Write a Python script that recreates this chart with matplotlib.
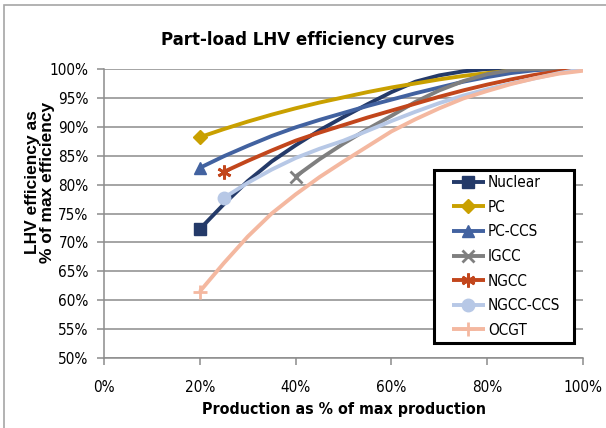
import matplotlib.pyplot as plt
from matplotlib.patches import Rectangle

# part-load efficiency data, % of max production vs % of max efficiency
prod_nuclear = [20, 25, 30, 35, 40, 45, 50, 55, 60, 65, 70, 75, 80, 85, 90, 95, 100]
eff_nuclear = [72.3, 76.6, 80.6, 84.0, 86.8, 89.4, 91.7, 93.9, 96.0, 97.8, 98.9, 99.6, 100, 100, 100, 100, 100]

prod_pc = [20, 25, 30, 35, 40, 45, 50, 55, 60, 65, 70, 75, 80, 85, 90, 95, 100]
eff_pc = [88.2, 89.6, 90.9, 92.1, 93.2, 94.2, 95.1, 96.0, 96.8, 97.5, 98.2, 98.8, 99.3, 99.7, 100, 100, 100]

prod_pc_ccs = [20, 25, 30, 35, 40, 45, 50, 55, 60, 65, 70, 75, 80, 85, 90, 95, 100]
eff_pc_ccs = [82.9, 84.9, 86.7, 88.4, 89.9, 91.2, 92.4, 93.6, 94.7, 95.8, 96.8, 97.8, 98.6, 99.3, 99.8, 100, 100]

prod_igcc = [40, 45, 50, 55, 60, 65, 70, 75, 80, 85, 90, 95, 100]
eff_igcc = [81.4, 84.4, 87.1, 89.6, 91.9, 94.3, 96.3, 97.9, 99.1, 99.8, 100, 100, 100]

prod_ngcc = [25, 30, 35, 40, 45, 50, 55, 60, 65, 70, 75, 80, 85, 90, 95, 100]
eff_ngcc = [82.2, 84.1, 85.9, 87.6, 89.0, 90.3, 91.6, 92.8, 94.0, 95.2, 96.3, 97.3, 98.2, 99.0, 99.6, 100]

prod_ngcc_ccs = [25, 30, 35, 40, 45, 50, 55, 60, 65, 70, 75, 80, 85, 90, 95, 100]
eff_ngcc_ccs = [77.7, 80.3, 82.6, 84.6, 86.2, 87.6, 89.3, 91.0, 92.6, 94.1, 95.4, 96.5, 97.5, 98.4, 99.3, 100]

prod_ocgt = [20, 25, 30, 35, 40, 45, 50, 55, 60, 65, 70, 75, 80, 85, 90, 95, 100]
eff_ocgt = [61.5, 66.4, 71.0, 75.0, 78.3, 81.3, 84.0, 86.6, 89.2, 91.3, 93.2, 94.9, 96.2, 97.4, 98.4, 99.2, 99.7]

series = [
    ("Nuclear", prod_nuclear, eff_nuclear, "#243a69", "s", 9),
    ("PC", prod_pc, eff_pc, "#c9a000", "D", 7),
    ("PC-CCS", prod_pc_ccs, eff_pc_ccs, "#4262a0", "^", 9),
    ("IGCC", prod_igcc, eff_igcc, "#7f7f7f", "x", 9),
    ("NGCC", prod_ngcc, eff_ngcc, "#c2461c", (6, 2, 0), 10),
    ("NGCC-CCS", prod_ngcc_ccs, eff_ngcc_ccs, "#b7c8e6", "o", 9),
    ("OCGT", prod_ocgt, eff_ocgt, "#f4b8a0", "+", 10),
]

narrow = dict(family="DejaVu Sans", stretch="condensed")
grid_col = "#8c8c8c"
W, H = 606, 428

fig = plt.figure(figsize=(W / 100, H / 100), dpi=100)
fig.patch.set_facecolor("white")
fig.add_artist(Rectangle((4 / W, -0.1), 1.2, 1 - 5 / H + 0.1, transform=fig.transFigure,
                         fill=False, edgecolor="#a6a6a6", linewidth=1.2))

ax = fig.add_axes([104 / W, 1 - 358 / H, 479 / W, 289 / H])
for name, x, y, col, mk, ms in series:
    mew = 2 if mk in ("x", "+", (6, 2, 0)) else 1
    ax.plot(x, y, color=col, linewidth=2.8, marker=mk, markersize=ms, markevery=[0],
            markeredgewidth=mew, label=name, solid_capstyle="butt")

ax.set_xlim(0, 100)
ax.set_ylim(50, 100)
ax.set_xticks(range(0, 101, 20))
ax.set_yticks(range(50, 101, 5))
ax.set_xticklabels([f"{v}%" for v in range(0, 101, 20)], fontsize=11, **narrow)
ax.set_yticklabels([f"{v}%" for v in range(50, 101, 5)], fontsize=11, **narrow)
ax.yaxis.grid(True, color=grid_col, linewidth=1.1)
ax.set_axisbelow(True)
for side in ("top", "right"):
    ax.spines[side].set_visible(False)
for side in ("left", "bottom"):
    ax.spines[side].set_color(grid_col)
    ax.spines[side].set_linewidth(1.1)
ax.tick_params(axis="both", direction="out", length=5, width=1.1, color=grid_col, pad=6)
ax.tick_params(axis="x", pad=11)

ax.set_xlabel("Production as % of max production", fontsize=11.4, fontweight="bold",
              labelpad=5, **narrow)
fig.text(40 / W, 1 - 182 / H, "LHV efficiency as\n% of max efficiency", rotation=90,
         ha="center", va="center", family="Liberation Sans", fontsize=12.5, fontweight="bold",
         multialignment="center", linespacing=0.95)
fig.text(308 / W, 1 - 40 / H, "Part-load LHV efficiency curves", ha="center",
         va="center", fontsize=13.3, fontweight="bold", **narrow)

# legend box drawn separately so the side padding can be wider than the top one
ax.add_patch(Rectangle((434 / W, 1 - 343 / H), 140 / W, 173 / H, transform=fig.transFigure,
                       facecolor="white", edgecolor="black", linewidth=2.2,
                       clip_on=False, zorder=4))
leg = ax.legend(loc="upper left", bbox_to_anchor=(452 / W, 1 - 175 / H),
                bbox_transform=fig.transFigure, numpoints=1, frameon=False,
                handlelength=2.15, handletextpad=0.2, labelspacing=0.63,
                borderpad=0, borderaxespad=0, prop=dict(size=11, **narrow))
leg.set_zorder(5)

fig.savefig("out.png", dpi=100)
